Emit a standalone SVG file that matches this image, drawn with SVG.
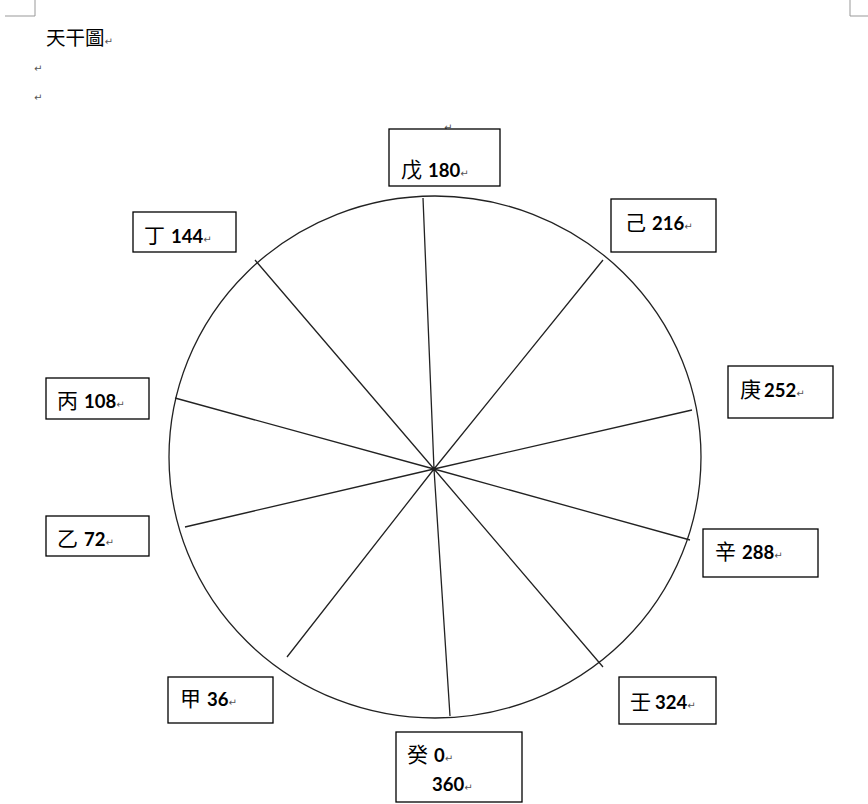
<svg xmlns="http://www.w3.org/2000/svg" width="868" height="804" viewBox="0 0 868 804">
<style>
.bx{fill:#fff;stroke:#000;stroke-width:1.3}
.cj{font-family:"Noto Sans CJK TC","Noto Sans CJK SC",sans-serif;font-size:21px;fill:#000}
.nm{font-family:Lato,"Liberation Sans",sans-serif;font-weight:bold;font-size:18.5px;fill:#000}
.rm{font-family:"DejaVu Sans",sans-serif;font-size:10px;fill:#555}
.sp{stroke:#222;stroke-width:1.3;fill:none}
.crn{stroke:#999;stroke-width:1;fill:none}
</style>
<rect width="868" height="804" fill="#fff"/>
<path class="crn" d="M35,0V16H5M850,0V16H868"/>
<text x="46" y="45" style="font-family:'Noto Sans CJK TC',sans-serif;font-size:19.5px">天干圖<tspan class="rm">↵</tspan></text>
<text x="34" y="72" class="rm">↵</text>
<text x="34" y="101" class="rm">↵</text>
<text x="444" y="131" class="rm">↵</text>
<g id="connectors">
<ellipse class="sp" cx="435" cy="457" rx="266" ry="261"/>
<path class="sp" d="M434,469L423,198M434,469L603,260M434,469L692,410M434,469L690,540M434,469L603,667M434,469L450,716M434,469L287,657M434,469L185,527M434,469L175,398M434,469L255,260"/>
</g>
<g id="wu"><rect class="bx" x="389" y="129" width="111" height="57"/><text x="401" y="177"><tspan class="cj">戊</tspan><tspan class="nm" dx="6">180</tspan><tspan class="rm">↵</tspan></text></g>
<g id="ji"><rect class="bx" x="611" y="199" width="105" height="53"/><text x="625" y="230"><tspan class="cj">己</tspan><tspan class="nm" dx="6">216</tspan><tspan class="rm">↵</tspan></text></g>
<g id="geng"><rect class="bx" x="728" y="366" width="105" height="52"/><text x="740" y="397"><tspan class="cj">庚</tspan><tspan class="nm" dx="3">252</tspan><tspan class="rm">↵</tspan></text></g>
<g id="xin"><rect class="bx" x="703" y="529" width="115" height="48"/><text x="715" y="559"><tspan class="cj">辛</tspan><tspan class="nm" dx="6">288</tspan><tspan class="rm">↵</tspan></text></g>
<g id="ren"><rect class="bx" x="619" y="677" width="97" height="47"/><text x="630" y="709"><tspan class="cj">壬</tspan><tspan class="nm" dx="4">324</tspan><tspan class="rm">↵</tspan></text></g>
<g id="gui"><rect class="bx" x="396" y="732" width="126" height="70"/><text x="407" y="762"><tspan class="cj">癸</tspan><tspan class="nm" dx="6">0</tspan><tspan class="rm">↵</tspan></text><text x="432" y="791"><tspan class="nm">360</tspan><tspan class="rm">↵</tspan></text></g>
<g id="jia"><rect class="bx" x="168" y="677" width="105" height="46"/><text x="180" y="706"><tspan class="cj">甲</tspan><tspan class="nm" dx="6">36</tspan><tspan class="rm">↵</tspan></text></g>
<g id="yi"><rect class="bx" x="46" y="516" width="103" height="40"/><text x="57" y="546"><tspan class="cj">乙</tspan><tspan class="nm" dx="6">72</tspan><tspan class="rm">↵</tspan></text></g>
<g id="bing"><rect class="bx" x="46" y="378" width="103" height="41"/><text x="57" y="408"><tspan class="cj">丙</tspan><tspan class="nm" dx="6">108</tspan><tspan class="rm">↵</tspan></text></g>
<g id="ding"><rect class="bx" x="133" y="212" width="103" height="40"/><text x="144" y="243"><tspan class="cj">丁</tspan><tspan class="nm" dx="6">144</tspan><tspan class="rm">↵</tspan></text></g>
</svg>
